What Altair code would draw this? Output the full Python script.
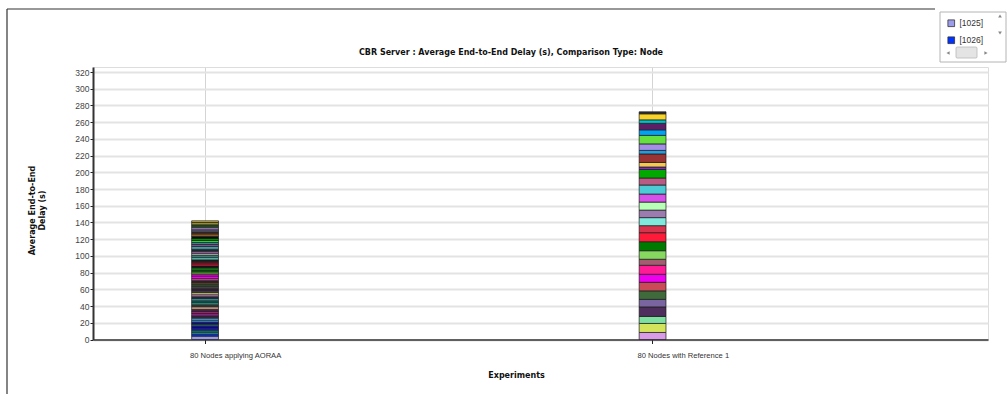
import altair as alt
import pandas as pd

experiments = ["80 Nodes applying AORAA", "80 Nodes with Reference 1"]
chart_title = "CBR Server :  Average End-to-End Delay (s), Comparison Type: Node"

# Stack segments, bottom to top (average end-to-end delay per node, s)
aoraa_delays = [4.0, 2.4, 2.4, 2.4, 2.4, 2.4, 2.4, 2.4, 2.4, 2.4,
                2.4, 3.2, 2.4, 2.4, 3.2, 2.4, 2.4, 2.4, 2.4, 2.4,
                2.4, 2.4, 2.4, 2.4, 2.4, 2.4, 2.4, 2.4, 2.4, 3.2,
                2.4, 2.4, 2.4, 2.4, 2.4, 2.4, 2.4, 2.4, 3.2, 2.4,
                2.4, 2.4, 2.4, 3.2, 2.4, 2.4, 2.4, 2.4, 2.4, 3.2,
                2.4, 2.4, 3.2, 2.8, 2.8, 2.0]
aoraa_colors = ["#9c9cea", "#0033ff", "#20a0a0", "#108080", "#1a1ae0", "#0000cc",
                "#2a6a70", "#0a0aa0", "#3c9be6", "#64b4f0", "#3a2a4a", "#7a2a7a",
                "#b01e78", "#501e50", "#c89680", "#3c3c3c", "#1eb496", "#145a5a",
                "#3cb4b4", "#2a2a40", "#c87ac8", "#dce66e", "#4a3c5a", "#3a1e3a",
                "#505050", "#2d5a2d", "#6e4632", "#282828", "#e646a0", "#f000f0",
                "#e61ec8", "#64c83c", "#0a640a", "#14a014", "#141414", "#e6143c",
                "#8c1428", "#1e1e1e", "#5aaaa0", "#3c9696", "#a0c8b4", "#b464b4",
                "#1e2832", "#46aab4", "#8c50a0", "#289696", "#28dc28", "#0a8c0a",
                "#0f0f0f", "#8c5a28", "#4a2d1e", "#6a6a8c", "#8c6eaa", "#1e5a1e",
                "#a08c1e", "#c8b450"]

ref1_delays = [8.4, 10.8, 8.4, 11.4, 9.0, 10.2, 10.2, 9.6, 10.8, 7.2,
               10.2, 10.8, 10.8, 8.4, 9.6, 9.0, 9.6, 9.6, 10.8, 8.4,
               10.2, 3.0, 5.4, 10.2, 4.2, 7.8, 10.2, 6.6, 7.8, 4.2,
               7.2, 2.4]
ref1_colors = ["#d99be8", "#d4e35c", "#7ee0a0", "#4e2e5c", "#7a65a0", "#3e6a3c",
               "#cc4a58", "#ee00ee", "#ff1a96", "#a35c70", "#86d860", "#007a00",
               "#ff1a3a", "#d8334e", "#80e8dc", "#9c7cb0", "#b8ffb8", "#d650ea",
               "#4ccad6", "#b85a84", "#00a800", "#8a2ad0", "#f5c850", "#9a3434",
               "#1ea0e0", "#a48ee6", "#66e040", "#00a2f2", "#5c1e66", "#00c0c8",
               "#f8d428", "#2e2e2e"]

aoraa_nodes = ["[%d]" % (1025 + i) for i in range(len(aoraa_delays))]
ref1_nodes = ["[%d]" % (1025 + len(aoraa_delays) + i) for i in range(len(ref1_delays))]

rows = []
for i, (d, n) in enumerate(zip(aoraa_delays, aoraa_nodes)):
    rows.append({"experiment": experiments[0], "node": n, "delay": d, "seg": i})
for i, (d, n) in enumerate(zip(ref1_delays, ref1_nodes)):
    rows.append({"experiment": experiments[1], "node": n, "delay": d, "seg": i})
df = pd.DataFrame(rows)

all_nodes = aoraa_nodes + ref1_nodes
all_colors = aoraa_colors + ref1_colors

FONT = "Liberation Sans"
BFONT = "DejaVu Sans"

one = pd.DataFrame({"a": [0]})

# legend panel background (drawn under the legend)
legend_box = alt.Chart(one).mark_rect(fill="white", stroke="#b4b4b4", strokeWidth=1).encode(
    x=alt.value(847), x2=alt.value(913), y=alt.value(-55), y2=alt.value(-5))
scroll_thumb = alt.Chart(one).mark_rect(fill="#e4e4e4", stroke="#b8b8b8", strokeWidth=0.8,
                                        cornerRadius=1).encode(
    x=alt.value(863), x2=alt.value(884), y=alt.value(-20), y2=alt.value(-9))
scroll_up = alt.Chart(one).mark_point(shape="triangle-up", filled=True, color="#555", size=14).encode(
    x=alt.value(907), y=alt.value(-51))
scroll_down = alt.Chart(one).mark_point(shape="triangle-down", filled=True, color="#555", size=14).encode(
    x=alt.value(907), y=alt.value(-34))
scroll_left = alt.Chart(one).mark_point(shape="triangle-left", filled=True, color="#555", size=14).encode(
    x=alt.value(855), y=alt.value(-14))
scroll_right = alt.Chart(one).mark_point(shape="triangle-right", filled=True, color="#555", size=14).encode(
    x=alt.value(893), y=alt.value(-14))

bars = alt.Chart(df).mark_bar(stroke="#1a1a1a", strokeWidth=0.7).encode(
    x=alt.X("experiment:N", sort=experiments,
            scale=alt.Scale(domain=experiments, paddingInner=0.94, paddingOuter=0.47, align=0.2345),
            axis=alt.Axis(title="Experiments", titleFontSize=8, titleFontWeight="bold",
                          titleFont=BFONT, titleColor="#111", titleX=423, titleY=32,
                          labelAngle=0, labelAlign="left", labelOffset=-15, labelPadding=8,
                          labelFontSize=7.6, labelFont=FONT, labelColor="#333",
                          tickSize=4, tickColor="#222", domainColor="#333", domainWidth=1.5,
                          grid=True, gridColor="#d4d4d4", gridWidth=1)),
    y=alt.Y("delay:Q", stack="zero",
            scale=alt.Scale(domain=[0, 326], nice=False),
            axis=alt.Axis(title=["Average End-to-End", "Delay (s)"], titleFontSize=8,
                          titleFontWeight="bold", titleFont=BFONT, titleColor="#111",
                          titlePadding=28, titleY=143,
                          values=list(range(0, 321, 20)), tickSize=3, tickColor="#222",
                          labelPadding=1, labelFontSize=8.5, labelFont=FONT, labelColor="#444",
                          domainColor="#333", domainWidth=2,
                          gridColor="#e3e3e3", gridWidth=2)),
    color=alt.Color("node:N",
                    scale=alt.Scale(domain=all_nodes, range=all_colors),
                    legend=alt.Legend(title=None, orient="none", legendX=847, legendY=-55,
                                      values=["[1025]", "[1026]"], symbolType="square",
                                      symbolSize=45, symbolStrokeColor="#333",
                                      symbolStrokeWidth=0.8, labelFontSize=8.5, labelFont=FONT,
                                      labelColor="#333", padding=7, rowPadding=6)),
    order=alt.Order("seg:Q"),
)

title_text = alt.Chart(one).mark_text(text=chart_title, font=BFONT, fontSize=8,
                                      fontWeight="bold", color="#111", align="center",
                                      baseline="middle").encode(
    x=alt.value(418), y=alt.value(-14))

top_rule = alt.Chart(one).mark_rule(color="#333", strokeWidth=1.2).encode(
    x=alt.value(-86), x2=alt.value(842), y=alt.value(-58))
left_rule = alt.Chart(one).mark_rule(color="#333", strokeWidth=1.2).encode(
    x=alt.value(-86), y=alt.value(-58), y2=alt.value(327))

chart = alt.layer(legend_box, scroll_thumb, scroll_up, scroll_down, scroll_left, scroll_right,
                  bars, title_text, top_rule, left_rule).properties(
    width=895, height=272.5,
    autosize=alt.AutoSizeParams(type="none"),
    padding={"left": 93, "top": 67, "right": 19, "bottom": 54.5},
).configure_view(stroke="#cfcfcf", strokeWidth=1.5).configure(background="white")

chart.save("out.html", embed_options={"renderer": "svg", "actions": False})
